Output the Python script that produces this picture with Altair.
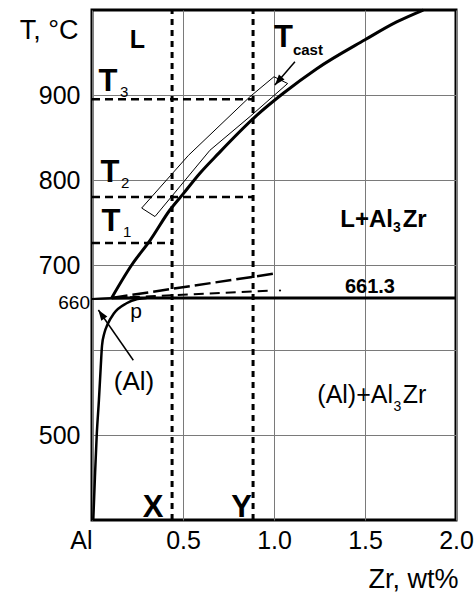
import altair as alt
import pandas as pd

FONT = "Liberation Sans"

# ---- phase boundaries (Zr wt% / temperature °C) ----
liq_x = [0.108, 0.218, 0.319, 0.429, 0.502, 0.593, 0.694, 0.905, 1.051, 1.235, 1.5, 1.674, 1.82]
liq_T = [661.3, 700, 729, 765, 784, 808, 831, 876, 902, 931, 965, 986, 1000]

solv_x = [0.007, 0.016, 0.026, 0.038, 0.048, 0.055, 0.068, 0.085, 0.12, 0.19, 0.25, 0.30]
solv_T = [400, 450, 500, 541, 580, 605, 620, 630, 643, 655, 660, 661.3]

melt_liq_x = [0.0, 0.108]
melt_liq_T = [660, 661.3]
melt_sol_x = [0.0, 0.25]
melt_sol_T = [660, 661.3]

peri_x = [0.108, 2.0]
peri_T = [661.3, 661.3]

meta_liq_x = [0.108, 1.005]
meta_liq_T = [661.3, 690]
meta_sol_x = [0.12, 0.99]
meta_sol_T = [661.3, 670]
dot_x = [1.033]
dot_T = [670]

# alloys X and Y, and the casting temperatures T1..T3
alloy_x = [0.44, 0.885]
level_T = [726, 780, 895]
level_end = [0.44, 0.885, 0.885]

# casting-temperature band
band_up_x = [0.273, 0.53, 0.868, 1.0]
band_up_T = [767, 829, 898, 921.5]
band_lo_x = [0.346, 0.648, 0.87, 1.075]
band_lo_T = [757, 835, 875, 913.5]

# arrows: tail -> head, with head angle (deg, clockwise from up)
arrow_tail_x = [1.115, 0.227]
arrow_tail_T = [939, 588]
arrow_head_x = [1.005, 0.035]
arrow_head_T = [911.8, 647]
arrow_angle = [220.6, 325.4]

x_axis = alt.Axis(
    values=[0, 0.5, 1.0, 1.5, 2.0],
    labelExpr="datum.value == 0 ? 'Al' : format(datum.value, '.1f')",
    labelAlign={"condition": {"test": "datum.value == 0", "value": "right"}, "value": "center"},
    grid=True, gridColor="#7a7a7a", gridWidth=1,
    ticks=False, domain=False,
    labelFont=FONT, labelFontSize=25, labelColor="black", labelPadding=8,
    labelFlush=False, labelOverlap=False,
    title="Zr, wt%", titleFont=FONT, titleFontSize=27, titleFontWeight="normal",
    titleColor="black", titleAlign="right", titleAnchor="end",
    titleX=366, titleY=67, titleBaseline="alphabetic",
)
y_axis = alt.Axis(
    values=[500, 600, 700, 800, 900],
    labelExpr="datum.value == 600 ? '' : datum.label",
    grid=True, gridColor="#7a7a7a", gridWidth=1,
    ticks=False, domain=False,
    labelFont=FONT, labelFontSize=25, labelColor="black", labelPadding=12,
    labelOverlap=False,
    title="T, °C", titleFont=FONT, titleFontSize=27, titleFontWeight="normal",
    titleColor="black", titleAngle=0, titleAlign="right",
    titleX=-14, titleY=28, titleBaseline="alphabetic",
)

X = alt.X("x:Q", scale=alt.Scale(domain=[0, 2], nice=False, zero=False), axis=x_axis)
Y = alt.Y("T:Q", scale=alt.Scale(domain=[400, 1000], nice=False, zero=False), axis=y_axis)


def line(xs, ts, width, dash=None, interp="linear"):
    df = pd.DataFrame({"x": xs, "T": ts, "i": list(range(len(xs)))})
    kw = dict(color="black", strokeWidth=width, interpolate=interp, strokeCap="butt")
    if dash:
        kw["strokeDash"] = dash
    return alt.Chart(df).mark_line(**kw).encode(x=X, y=Y, order="i:Q")


def text(items, size, weight="normal", align="center", baseline="alphabetic", dx=0, dy=0):
    df = pd.DataFrame(items, columns=["label", "x", "T"])
    return alt.Chart(df).mark_text(
        font=FONT, fontSize=size, fontWeight=weight, align=align,
        baseline=baseline, color="black", dx=dx, dy=dy,
    ).encode(x=X, y=Y, text="label:N")


layers = []

# dotted guide lines for the alloys and casting temperatures
for ax in alloy_x:
    layers.append(line([ax, ax], [400, 1000], 3, dash=[6, 5]))
for t, xe in zip(level_T, level_end):
    layers.append(line([0, xe], [t, t], 2.5, dash=[8, 5]))

# metastable extensions
layers.append(line(meta_liq_x, meta_liq_T, 2.5, dash=[16, 5]))
layers.append(line(meta_sol_x, meta_sol_T, 2, dash=[10, 6]))
layers.append(
    alt.Chart(pd.DataFrame({"x": dot_x, "T": dot_T}))
    .mark_point(filled=True, color="black", size=5, opacity=1)
    .encode(x=X, y=Y)
)

# equilibrium boundaries
layers.append(line(liq_x, liq_T, 3, interp="monotone"))
layers.append(line(solv_x, solv_T, 2.5, interp="monotone"))
layers.append(line(melt_liq_x, melt_liq_T, 2))
layers.append(line(melt_sol_x, melt_sol_T, 2))
layers.append(line(peri_x, peri_T, 3))

# casting band outline
bx = band_up_x + band_lo_x[::-1] + band_up_x[:1]
bt = band_up_T + band_lo_T[::-1] + band_up_T[:1]
layers.append(line(bx, bt, 1))

# arrows
for tx, tt, hx, ht in zip(arrow_tail_x, arrow_tail_T, arrow_head_x, arrow_head_T):
    layers.append(line([tx, hx], [tt, ht], 1.5))
layers.append(
    alt.Chart(pd.DataFrame({"x": arrow_head_x, "T": arrow_head_T, "a": arrow_angle}))
    .mark_point(shape="M0,0L0.7,2L-0.7,2Z", filled=True, color="black",
                size=110, opacity=1, strokeWidth=0)
    .encode(x=X, y=Y, angle=alt.Angle("a:Q", scale=None))
)

# labels
layers.append(text([["T", 0.088, 904.7], ["T", 0.099, 797.6], ["T", 0.104, 740],
                    ["T", 1.052, 956.5]], 31, "bold"))
layers.append(text([["3", 0.154, 897.6], ["2", 0.159, 790.6], ["1", 0.170, 733]],
                   15, align="left"))
layers.append(text([["cast", 1.104, 947]], 15, "bold", align="left"))
layers.append(text([["L", 0.25, 964.7]], 25, "bold", baseline="middle"))
layers.append(text([["X", 0.335, 403.5], ["Y", 0.822, 403.5]], 31, "bold"))
layers.append(text([["L+Al", 1.654, 745]], 24, "bold", align="right"))
layers.append(text([["3", 1.654, 738.8]], 14, "bold", align="left"))
layers.append(text([["Zr", 1.707, 745]], 24, "bold", align="left"))
layers.append(text([["(Al)+Al", 1.654, 537.6]], 25, align="right"))
layers.append(text([["3", 1.656, 528.6]], 14, align="left"))
layers.append(text([["Zr", 1.707, 537.6]], 25, align="left"))
layers.append(text([["661.3", 1.527, 666.7]], 20, "bold"))
layers.append(text([["p", 0.242, 637.6]], 21))
layers.append(text([["(Al)", 0.231, 552.9]], 26))
layers.append(text([["660", 0.0, 660]], 19, align="right", baseline="middle", dx=-2, dy=4))

chart = (
    alt.layer(*layers)
    .properties(
        width=364, height=510,
        autosize=alt.AutoSizeParams(type="none"),
        padding={"left": 92, "top": 10, "right": 20, "bottom": 73},
        background="white",
    )
    .configure_view(stroke="black", strokeWidth=3)
)

chart.save("out.html", embed_options={"renderer": "svg", "actions": False})
